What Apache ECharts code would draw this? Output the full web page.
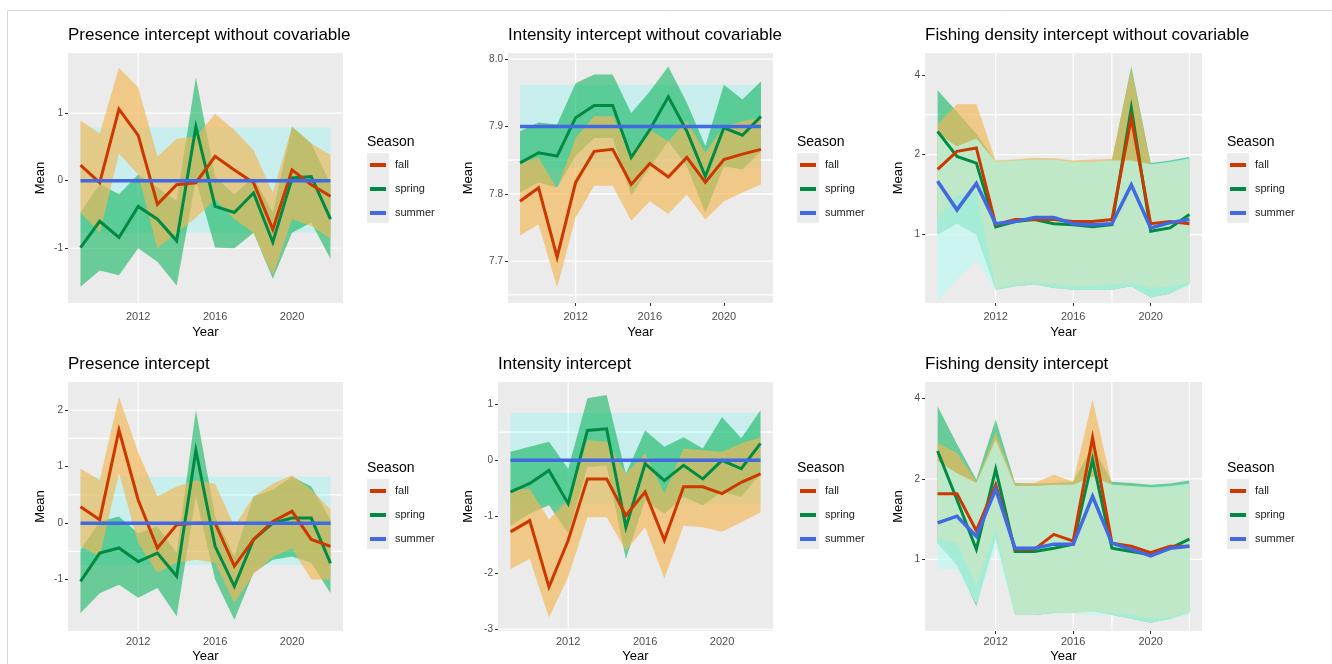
<!DOCTYPE html>
<html>
<head>
<meta charset="utf-8">
<script src="https://cdn.jsdelivr.net/npm/echarts@6/dist/echarts.min.js"></script>
<style>
html, body { margin: 0; padding: 0; background: #ffffff; }
#chart { width: 1332px; height: 664px; }
</style>
</head>
<body>
<div id="chart"></div>
<script>
// ---------- data ----------
const years = [2009, 2010, 2011, 2012, 2013, 2014, 2015, 2016, 2017, 2018, 2019, 2020, 2021, 2022];
const seasons = ['fall', 'spring', 'summer'];
const xTicks = [2012, 2016, 2020];

// Presence intercept without covariable
const p1FallMean   = [0.23, -0.03, 1.06, 0.67, -0.35, -0.06, -0.03, 0.36, 0.16, -0.03, -0.72, 0.16, -0.06, -0.23];
const p1FallHigh   = [0.89, 0.70, 1.67, 1.38, 0.36, 0.62, 0.65, 0.99, 0.75, 0.45, -0.18, 0.80, 0.55, 0.38];
const p1FallLow    = [-0.47, -0.77, 0.40, 0.09, -1.00, -0.77, -0.55, -0.28, -0.57, -0.77, -1.40, -0.57, -0.67, -0.86];
const p1SpringMean = [-0.99, -0.60, -0.84, -0.38, -0.57, -0.89, 0.80, -0.38, -0.47, -0.18, -0.91, 0.04, 0.06, -0.57];
const p1SpringHigh = [-0.47, -0.05, -0.20, 0.09, -0.10, -0.30, 1.53, 0.06, -0.20, 0.05, -0.47, 0.80, 0.55, -0.05];
const p1SpringLow  = [-1.57, -1.33, -1.40, -1.00, -1.20, -1.55, 0.01, -0.99, -1.00, -0.77, -1.45, -0.77, -0.62, -1.16];
const p1SummerMean = [0, 0, 0, 0, 0, 0, 0, 0, 0, 0, 0, 0, 0, 0];
const p1SummerHigh = [0.79, 0.79, 0.79, 0.79, 0.79, 0.79, 0.79, 0.79, 0.79, 0.79, 0.79, 0.79, 0.79, 0.79];
const p1SummerLow  = [-0.77, -0.77, -0.77, -0.77, -0.77, -0.77, -0.77, -0.77, -0.77, -0.77, -0.77, -0.77, -0.77, -0.77];
const p1YTicks = [-1, 0, 1];

// Intensity intercept without covariable
const p2FallMean   = [7.789, 7.809, 7.706, 7.817, 7.863, 7.866, 7.814, 7.845, 7.825, 7.854, 7.817, 7.851, 7.859, 7.866];
const p2FallHigh   = [7.846, 7.854, 7.807, 7.883, 7.915, 7.915, 7.861, 7.895, 7.878, 7.908, 7.861, 7.900, 7.908, 7.913];
const p2FallLow    = [7.738, 7.755, 7.661, 7.765, 7.812, 7.812, 7.760, 7.789, 7.770, 7.799, 7.762, 7.789, 7.802, 7.814];
const p2SpringMean = [7.846, 7.861, 7.856, 7.913, 7.931, 7.931, 7.854, 7.895, 7.944, 7.893, 7.826, 7.898, 7.887, 7.915];
const p2SpringHigh = [7.893, 7.906, 7.903, 7.964, 7.977, 7.977, 7.920, 7.952, 7.989, 7.935, 7.871, 7.962, 7.940, 7.967];
const p2SpringLow  = [7.802, 7.817, 7.809, 7.856, 7.883, 7.883, 7.797, 7.839, 7.878, 7.841, 7.772, 7.841, 7.836, 7.863];
const p2SummerMean = [7.9, 7.9, 7.9, 7.9, 7.9, 7.9, 7.9, 7.9, 7.9, 7.9, 7.9, 7.9, 7.9, 7.9];
const p2SummerHigh = [7.962, 7.962, 7.962, 7.962, 7.962, 7.962, 7.962, 7.962, 7.962, 7.962, 7.962, 7.962, 7.962, 7.962];
const p2SummerLow  = [7.838, 7.838, 7.838, 7.838, 7.838, 7.838, 7.838, 7.838, 7.838, 7.838, 7.838, 7.838, 7.838, 7.838];
const p2YTicks = [7.7, 7.8, 7.9, 8.0];

// Fishing density intercept without covariable (log scale)
const p3FallMean   = [1.76, 2.06, 2.12, 1.09, 1.14, 1.14, 1.14, 1.12, 1.12, 1.14, 2.75, 1.10, 1.12, 1.10];
const p3FallHigh   = [2.60, 3.10, 3.10, 1.90, 1.92, 1.95, 1.94, 1.90, 1.92, 1.93, 4.20, 1.82, 1.86, 1.90];
const p3FallLow    = [1.15, 1.40, 1.45, 0.63, 0.65, 0.66, 0.65, 0.64, 0.64, 0.65, 0.66, 0.63, 0.64, 0.66];
const p3SpringMean = [2.45, 1.97, 1.86, 1.07, 1.12, 1.14, 1.10, 1.09, 1.07, 1.09, 3.00, 1.03, 1.06, 1.19];
const p3SpringHigh = [3.50, 2.90, 2.40, 1.88, 1.90, 1.92, 1.92, 1.88, 1.88, 1.90, 4.30, 1.86, 1.90, 1.96];
const p3SpringLow  = [1.00, 1.10, 1.00, 0.62, 0.64, 0.65, 0.63, 0.62, 0.62, 0.62, 0.64, 0.58, 0.60, 0.65];
const p3SummerMean = [1.59, 1.24, 1.56, 1.10, 1.12, 1.16, 1.16, 1.10, 1.09, 1.10, 1.54, 1.06, 1.11, 1.14];
const p3SummerHigh = [2.40, 2.15, 2.30, 1.88, 1.90, 1.92, 1.92, 1.88, 1.88, 1.90, 1.90, 1.84, 1.88, 1.94];
const p3SummerLow  = [0.56, 0.68, 0.80, 0.62, 0.64, 0.65, 0.63, 0.62, 0.62, 0.62, 0.64, 0.58, 0.60, 0.64];
const p3YTicks = [1, 2, 4];

// Presence intercept
const p4FallMean   = [0.29, 0.06, 1.65, 0.41, -0.44, -0.03, 0.00, 0.00, -0.76, -0.29, 0.03, 0.21, -0.29, -0.41];
const p4FallHigh   = [0.97, 0.76, 2.24, 1.25, 0.47, 0.65, 0.76, 0.70, -0.06, 0.47, 0.70, 0.85, 0.59, 0.24];
const p4FallLow    = [-0.41, -0.59, 0.88, -0.35, -0.88, -0.70, -0.65, -0.70, -1.41, -0.90, -0.60, -0.45, -1.00, -1.00];
const p4SpringMean = [-1.03, -0.53, -0.44, -0.68, -0.53, -0.94, 1.29, -0.41, -1.12, -0.29, 0.00, 0.09, 0.09, -0.71];
const p4SpringHigh = [-0.47, 0.03, 0.12, -0.18, -0.06, -0.53, 2.00, 0.12, -0.59, 0.47, 0.59, 0.82, 0.65, 0.06];
const p4SpringLow  = [-1.59, -1.24, -1.09, -1.32, -1.15, -1.65, 0.47, -1.00, -1.71, -0.88, -0.65, -0.59, -0.70, -1.24];
const p4SummerMean = [0, 0, 0, 0, 0, 0, 0, 0, 0, 0, 0, 0, 0, 0];
const p4SummerHigh = [0.82, 0.82, 0.82, 0.82, 0.82, 0.82, 0.82, 0.82, 0.82, 0.82, 0.82, 0.82, 0.82, 0.82];
const p4SummerLow  = [-0.74, -0.74, -0.74, -0.74, -0.74, -0.74, -0.74, -0.74, -0.74, -0.74, -0.74, -0.74, -0.74, -0.74];
const p4YTicks = [-1, 0, 1, 2];

// Intensity intercept
const p5FallMean   = [-1.27, -1.07, -2.25, -1.42, -0.33, -0.33, -0.98, -0.56, -1.42, -0.47, -0.47, -0.59, -0.39, -0.24];
const p5FallHigh   = [-0.53, -0.50, -1.05, -0.70, 0.36, 0.33, -0.24, 0.12, -0.59, 0.21, 0.18, 0.15, 0.30, 0.41];
const p5FallLow    = [-1.93, -1.75, -2.79, -2.07, -1.01, -1.01, -1.60, -1.19, -2.10, -1.16, -1.19, -1.27, -1.10, -0.92];
const p5SpringMean = [-0.56, -0.41, -0.18, -0.77, 0.53, 0.56, -1.19, -0.06, -0.36, -0.09, -0.33, 0.00, -0.15, 0.30];
const p5SpringHigh = [0.15, 0.24, 0.33, -0.15, 1.10, 1.16, -0.24, 0.53, 0.24, 0.41, 0.21, 0.77, 0.39, 0.89];
const p5SpringLow  = [-1.16, -0.95, -0.80, -1.30, -0.12, -0.09, -1.75, -0.71, -0.95, -0.65, -0.80, -0.56, -0.65, -0.24];
const p5SummerMean = [0, 0, 0, 0, 0, 0, 0, 0, 0, 0, 0, 0, 0, 0];
const p5SummerHigh = [0.84, 0.84, 0.84, 0.84, 0.84, 0.84, 0.84, 0.84, 0.84, 0.84, 0.84, 0.84, 0.84, 0.84];
const p5SummerLow  = [-0.78, -0.78, -0.78, -0.78, -0.78, -0.78, -0.78, -0.78, -0.78, -0.78, -0.78, -0.78, -0.78, -0.78];
const p5YTicks = [-3, -2, -1, 0, 1];

// Fishing density intercept (log scale)
const p6FallMean   = [1.76, 1.76, 1.28, 1.90, 1.09, 1.09, 1.24, 1.17, 2.85, 1.15, 1.12, 1.06, 1.12, 1.12];
const p6FallHigh   = [2.72, 2.50, 1.95, 2.97, 1.92, 1.93, 2.07, 1.95, 3.96, 1.90, 1.88, 1.84, 1.86, 1.90];
const p6FallLow    = [1.20, 1.15, 0.80, 1.30, 0.62, 0.62, 0.64, 0.63, 0.64, 0.63, 0.62, 0.60, 0.61, 0.63];
const p6SpringMean = [2.54, 1.67, 1.09, 2.17, 1.07, 1.07, 1.10, 1.14, 2.36, 1.10, 1.07, 1.04, 1.10, 1.19];
const p6SpringHigh = [3.73, 2.70, 1.99, 3.33, 1.93, 1.92, 1.93, 1.95, 2.65, 1.95, 1.93, 1.90, 1.92, 1.97];
const p6SpringLow  = [1.15, 0.95, 0.67, 1.20, 0.62, 0.62, 0.63, 0.63, 0.64, 0.62, 0.60, 0.58, 0.60, 0.63];
const p6SummerMean = [1.37, 1.45, 1.22, 1.83, 1.10, 1.10, 1.14, 1.14, 1.72, 1.15, 1.09, 1.03, 1.10, 1.12];
const p6SummerHigh = [2.33, 2.10, 1.93, 2.80, 1.88, 1.88, 1.90, 1.90, 2.04, 1.90, 1.88, 1.86, 1.88, 1.92];
const p6SummerLow  = [0.92, 0.92, 0.68, 1.10, 0.62, 0.62, 0.63, 0.63, 0.62, 0.62, 0.60, 0.58, 0.60, 0.62];
const p6YTicks = [1, 2, 4];

// ---------- styling ----------
const lineColor = { fall: '#CD3700', spring: '#008B45', summer: '#4169E1' };
const bandColor = {
  fall: 'rgba(242,183,86,0.67)',
  spring: 'rgba(10,180,90,0.58)',
  summerUnder: 'rgba(0,255,255,0.15)',
  summerOver: 'rgba(189,250,240,0.7)'
};
const FONT = '"Liberation Sans", Arial, sans-serif';
const PANEL_BG = '#EBEBEB';

// panel layout: plot rectangles, axis ranges, visible grid lines, legend place
const panels = [
  { title: 'Presence intercept without covariable', rect: [68, 53, 275, 250],
    yMin: -1.81, yMax: 1.89, yTicks: p1YTicks, log: false, digits: 0, yGap: 21,
    xLabelMargin: 8, xNameGap: 23, hGrid: [1, -1], vGrid: [2012], legend: [367, 142], summerOnTop: false,
    fall: [p1FallMean, p1FallLow, p1FallHigh], spring: [p1SpringMean, p1SpringLow, p1SpringHigh], summer: [p1SummerMean, p1SummerLow, p1SummerHigh] },
  { title: 'Intensity intercept without covariable', rect: [508, 53, 265, 250],
    yMin: 7.638, yMax: 8.009, yTicks: p2YTicks, log: false, digits: 1, yGap: 33,
    xLabelMargin: 8, xNameGap: 23, hGrid: [8.0, 7.85, 7.8, 7.7, 7.65], vGrid: [2012], legend: [797, 142], summerOnTop: false,
    fall: [p2FallMean, p2FallLow, p2FallHigh], spring: [p2SpringMean, p2SpringLow, p2SpringHigh], summer: [p2SummerMean, p2SummerLow, p2SummerHigh] },
  { title: 'Fishing density intercept without covariable', rect: [925, 53, 277, 250],
    yMin: 0.553, yMax: 4.83, yTicks: p3YTicks, log: true, digits: 0, yGap: 20,
    xLabelMargin: 8, xNameGap: 23, hGrid: [2.83, 2, 1], vGrid: [2012, 2016, 2018, 2022], legend: [1227, 142], summerOnTop: true,
    fall: [p3FallMean, p3FallLow, p3FallHigh], spring: [p3SpringMean, p3SpringLow, p3SpringHigh], summer: [p3SummerMean, p3SummerLow, p3SummerHigh] },
  { title: 'Presence intercept', rect: [68, 382, 275, 250],
    yMin: -1.91, yMax: 2.5, yTicks: p4YTicks, log: false, digits: 0, yGap: 21,
    xLabelMargin: 5, xNameGap: 19, hGrid: [2, 1.5, 0.5, -0.5], vGrid: [2012], legend: [367, 468], summerOnTop: false,
    fall: [p4FallMean, p4FallLow, p4FallHigh], spring: [p4SpringMean, p4SpringLow, p4SpringHigh], summer: [p4SummerMean, p4SummerLow, p4SummerHigh] },
  { title: 'Intensity intercept', rect: [498, 382, 275, 250],
    yMin: -3.03, yMax: 1.39, yTicks: p5YTicks, log: false, digits: 0, yGap: 23,
    xLabelMargin: 5, xNameGap: 19, hGrid: [0.5, -3], vGrid: [2012], legend: [797, 468], summerOnTop: false,
    fall: [p5FallMean, p5FallLow, p5FallHigh], spring: [p5SpringMean, p5SpringLow, p5SpringHigh], summer: [p5SummerMean, p5SummerLow, p5SummerHigh] },
  { title: 'Fishing density intercept', rect: [925, 382, 277, 250],
    yMin: 0.54, yMax: 4.6, yTicks: p6YTicks, log: true, digits: 0, yGap: 20,
    xLabelMargin: 5, xNameGap: 19, hGrid: [2, 1], vGrid: [2012, 2016, 2018, 2022], legend: [1227, 468], summerOnTop: true,
    fall: [p6FallMean, p6FallLow, p6FallHigh], spring: [p6SpringMean, p6SpringLow, p6SpringHigh], summer: [p6SummerMean, p6SummerLow, p6SummerHigh] }
];

const X_MIN = 2008.35, X_MAX = 2022.65;

// white panel grid lines drawn through the axis scales
function gridLineSeries(i, p) {
  const yMid = p.log ? Math.sqrt(p.yMin * p.yMax) : (p.yMin + p.yMax) / 2;
  const items = p.hGrid.map(v => [2015, v, 0]).concat(p.vGrid.map(v => [v, yMid, 1]));
  return {
    type: 'custom', name: 'grid-' + i, xAxisIndex: i, yAxisIndex: i, z: 1, silent: true,
    data: items,
    renderItem(params, api) {
      const cs = params.coordSys;
      const pt = api.coord([api.value(0), api.value(1)]);
      const shape = api.value(2) === 0
        ? { x1: cs.x, y1: pt[1], x2: cs.x + cs.width, y2: pt[1] }
        : { x1: pt[0], y1: cs.y, x2: pt[0], y2: cs.y + cs.height };
      return { type: 'line', shape, style: { stroke: '#FFFFFF', lineWidth: 1.2 } };
    }
  };
}

// confidence ribbon as one polygon between low and high
function bandSeries(i, name, low, high, color, z) {
  return {
    type: 'custom', name: name + ' band', xAxisIndex: i, yAxisIndex: i, z, silent: true, clip: true,
    data: years.map((y, k) => [y, low[k], high[k]]),
    encode: { x: 0, y: [1, 2] },
    renderItem(params, api) {
      if (params.dataIndex !== 0) return null;
      const pts = [];
      for (let k = 0; k < years.length; k++) pts.push(api.coord([years[k], high[k]]));
      for (let k = years.length - 1; k >= 0; k--) pts.push(api.coord([years[k], low[k]]));
      return { type: 'polygon', shape: { points: pts }, style: { fill: color } };
    }
  };
}

function meanSeries(i, name, values) {
  return {
    type: 'line', name, xAxisIndex: i, yAxisIndex: i, z: 3, silent: true,
    data: years.map((y, k) => [y, values[k]]),
    symbol: 'none', color: lineColor[name],
    lineStyle: { color: lineColor[name], width: name === 'summer' ? 3.5 : 3, join: 'miter' }
  };
}

const grids = [], xAxes = [], yAxes = [], series = [], titles = [], legends = [], graphics = [];

graphics.push({
  type: 'rect', z: 0, silent: true,
  shape: { x: 7.5, y: 10.5, width: 1340, height: 700 },
  style: { fill: null, stroke: '#D6D6D6', lineWidth: 1 }
});

panels.forEach((p, i) => {
  const [l, t, w, h] = p.rect;
  grids.push({ left: l, top: t, width: w, height: h, show: true, backgroundColor: PANEL_BG, borderWidth: 0 });

  xAxes.push({
    gridIndex: i, type: 'value', min: X_MIN, max: X_MAX,
    name: 'Year', nameLocation: 'middle', nameGap: p.xNameGap,
    nameTextStyle: { fontFamily: FONT, fontSize: 13, color: '#000000' },
    axisLine: { show: false },
    axisTick: { show: true, customValues: xTicks, length: 3, lineStyle: { color: '#333333', width: 1 } },
    axisLabel: { customValues: xTicks, margin: p.xLabelMargin, fontFamily: FONT, fontSize: 11, color: '#4D4D4D',
                 formatter: v => String(Math.round(v)) },
    splitLine: { show: false }
  });

  yAxes.push({
    gridIndex: i, type: p.log ? 'log' : 'value', logBase: 2, min: p.yMin, max: p.yMax,
    name: 'Mean', nameLocation: 'middle', nameGap: p.yGap,
    nameTextStyle: { fontFamily: FONT, fontSize: 13, color: '#000000' },
    axisLine: { show: false },
    axisTick: { show: true, customValues: p.yTicks, length: 3, lineStyle: { color: '#333333', width: 1 } },
    axisLabel: { customValues: p.yTicks, margin: 5, fontFamily: FONT, fontSize: 10, color: '#4D4D4D',
                 formatter: v => Number(v).toFixed(p.digits) },
    splitLine: { show: false }
  });

  series.push(gridLineSeries(i, p));
  if (!p.summerOnTop) {
    series.push(bandSeries(i, 'summer', p.summer[1], p.summer[2], bandColor.summerUnder, 2));
    series.push(bandSeries(i, 'spring', p.spring[1], p.spring[2], bandColor.spring, 2));
    series.push(bandSeries(i, 'fall', p.fall[1], p.fall[2], bandColor.fall, 2));
  } else {
    series.push(bandSeries(i, 'spring', p.spring[1], p.spring[2], bandColor.spring, 2));
    series.push(bandSeries(i, 'fall', p.fall[1], p.fall[2], bandColor.fall, 2));
    series.push(bandSeries(i, 'summer', p.summer[1], p.summer[2], bandColor.summerOver, 2));
  }
  series.push(meanSeries(i, 'spring', p.spring[0]));
  series.push(meanSeries(i, 'fall', p.fall[0]));
  series.push(meanSeries(i, 'summer', p.summer[0]));

  titles.push({
    text: p.title, left: l, top: t - 26, padding: 0,
    textStyle: { fontFamily: FONT, fontSize: 17, fontWeight: 'normal', color: '#000000' }
  });

  const [lx, ly] = p.legend;
  graphics.push({
    type: 'text', z: 5, silent: true,
    style: { text: 'Season', x: lx, y: ly, fill: '#000000', font: '14px ' + FONT, verticalAlign: 'middle' }
  });
  graphics.push({
    type: 'rect', z: 0, silent: true,
    shape: { x: lx, y: ly + 11, width: 22, height: 70 },
    style: { fill: PANEL_BG }
  });
  legends.push({
    left: lx + 3, top: ly + 17, orient: 'vertical', selectedMode: false, padding: 0,
    data: seasons, icon: 'rect', itemWidth: 16, itemHeight: 4, itemGap: 12,
    textStyle: { fontFamily: FONT, fontSize: 11, color: '#222222', lineHeight: 12, padding: [0, 0, 0, 4] }
  });
});

const chart = echarts.init(document.getElementById('chart'), null, { renderer: 'canvas' });
chart.setOption({
  animation: false,
  backgroundColor: '#FFFFFF',
  title: titles,
  legend: legends,
  grid: grids,
  xAxis: xAxes,
  yAxis: yAxes,
  series: series,
  graphic: { elements: graphics }
});
</script>
</body>
</html>
